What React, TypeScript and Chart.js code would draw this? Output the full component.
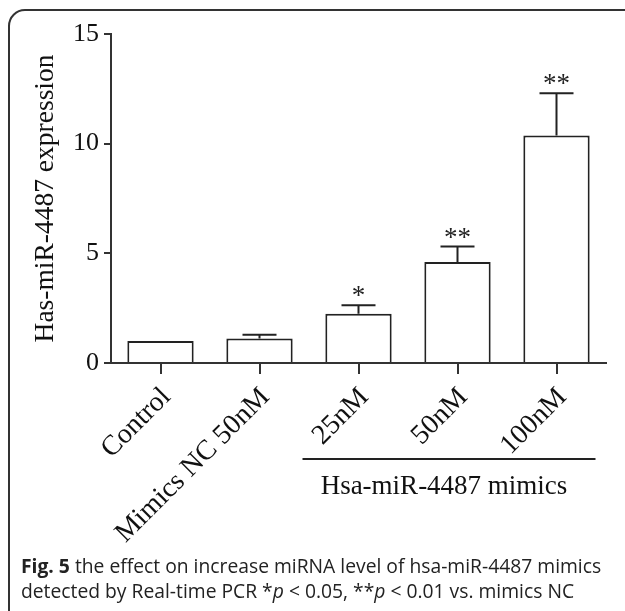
import React, { useEffect, useRef } from "react";
import { Chart, registerables } from "chart.js";

Chart.register(...registerables);

const categories = ["Control", "Mimics NC 50nM", "25nM", "50nM", "100nM"];
const means = [1.0, 1.12, 2.24, 4.61, 10.37];
const sems = [0, 0.17, 0.39, 0.7, 1.93];
const stars = ["", "", "*", "**", "**"];
const yTicks = [0, 5, 10, 15];
const yTitle = "Has-miR-4487 expression";
const groupLabel = "Hsa-miR-4487 mimics";
const captionBold = "Fig. 5";
const captionLine1 = " the effect on increase miRNA level of hsa-miR-4487 mimics";
const captionLine2 = ["detected by Real-time PCR *", "p", " < 0.05, **", "p", " < 0.01 vs. mimics NC"];

const SERIF = '"Liberation Serif", "Times New Roman", serif';
const SANS = '"Open Sans", "Noto Sans", sans-serif';
const CAP = 19.3;

const overlay = {
  id: "overlay",
  beforeDraw(chart: any) {
    const ctx = chart.ctx;
    ctx.save();
    ctx.fillStyle = "#fff";
    ctx.fillRect(0, 0, chart.width, chart.height);
    ctx.strokeStyle = "#333";
    ctx.lineWidth = 2;
    ctx.beginPath();
    (ctx as any).roundRect(9, 10, 720, 640, 16);
    ctx.stroke();
    ctx.restore();
  },
  afterDatasetsDraw(chart: any) {
    const ctx = chart.ctx;
    const y = chart.scales.y;
    const meta = chart.getDatasetMeta(0);
    ctx.save();
    ctx.strokeStyle = "#222";
    ctx.lineWidth = 2;
    means.forEach((m, i) => {
      const cx = meta.data[i].x;
      const top = y.getPixelForValue(m);
      if (sems[i] > 0) {
        const et = y.getPixelForValue(m + sems[i]);
        ctx.beginPath();
        ctx.moveTo(cx, top);
        ctx.lineTo(cx, et);
        ctx.moveTo(cx - 17, et);
        ctx.lineTo(cx + 17, et);
        ctx.stroke();
      }
      if (stars[i]) {
        const et = y.getPixelForValue(m + sems[i]);
        ctx.fillStyle = "#222";
        ctx.font = `27px ${SERIF}`;
        ctx.textAlign = "center";
        ctx.textBaseline = "alphabetic";
        ctx.fillText(stars[i], cx, et - 1);
      }
    });
    ctx.restore();
  },
  afterDraw(chart: any) {
    const ctx = chart.ctx;
    const x = chart.scales.x;
    ctx.save();
    const x1 = x.getPixelForValue(2) - 56;
    const x2 = x.getPixelForValue(4) + 39;
    ctx.strokeStyle = "#222";
    ctx.lineWidth = 2;
    ctx.beginPath();
    ctx.moveTo(x1, 459);
    ctx.lineTo(x2, 459);
    ctx.stroke();
    ctx.fillStyle = "#111";
    ctx.font = `27px ${SERIF}`;
    ctx.textAlign = "center";
    ctx.textBaseline = "alphabetic";
    ctx.fillText(groupLabel, (x1 + x2) / 2 - 5, 494);
    ctx.textAlign = "left";
    ctx.fillStyle = "#222";
    let cx = 21;
    ctx.font = `bold ${CAP}px ${SANS}`;
    ctx.fillText(captionBold, cx, 573);
    cx += ctx.measureText(captionBold).width;
    ctx.font = `${CAP}px ${SANS}`;
    ctx.fillText(captionLine1, cx, 573);
    cx = 21;
    captionLine2.forEach((seg) => {
      ctx.font = seg === "p" ? `italic ${CAP}px ${SANS}` : `${CAP}px ${SANS}`;
      ctx.fillText(seg, cx, 598);
      cx += ctx.measureText(seg).width;
    });
    ctx.restore();
  },
};

export default function App() {
  const ref = useRef<HTMLCanvasElement>(null);
  useEffect(() => {
    document.body.style.margin = "0";
    const chart = new Chart(ref.current!, {
      type: "bar",
      data: {
        labels: categories,
        datasets: [
          {
            data: means,
            backgroundColor: "#fff",
            borderColor: "#222",
            borderWidth: 2,
            barPercentage: 0.67,
            categoryPercentage: 1,
          },
        ],
      },
      options: {
        animation: false,
        responsive: false,
        layout: { padding: { left: 0, top: 34, right: 19, bottom: 0 } },
        plugins: { legend: { display: false }, tooltip: { enabled: false } },
        scales: {
          x: {
            z: 1,
            grid: {
              offset: false,
              drawOnChartArea: false,
              drawTicks: true,
              tickLength: 11,
              color: "#333",
              lineWidth: 2,
            },
            border: { display: true, color: "#333", width: 2 },
            ticks: {
              maxRotation: 45,
              minRotation: 45,
              padding: 7,
              labelOffset: 6,
              color: "#111",
              font: { family: SERIF, size: 28 },
            },
            afterFit(scale: any) {
              scale.height = 248;
            },
          },
          y: {
            min: 0,
            max: 15,
            afterBuildTicks(scale: any) {
              scale.ticks = yTicks.map((v) => ({ value: v }));
            },
            grid: {
              drawOnChartArea: false,
              drawTicks: true,
              tickLength: 7,
              color: "#333",
              lineWidth: 2,
            },
            border: { display: true, color: "#333", width: 2 },
            ticks: {
              padding: 5,
              color: "#111",
              font: { family: SERIF, size: 26 },
            },
            title: {
              display: true,
              text: yTitle,
              color: "#111",
              font: { family: SERIF, size: 27.5 },
              padding: { top: 29, bottom: 0 },
            },
            afterFit(scale: any) {
              scale.width = 111;
            },
          },
        },
      },
      plugins: [overlay],
    });
    return () => chart.destroy();
  }, []);
  return <canvas ref={ref} width={625} height={611} style={{ display: "block" }} />;
}
